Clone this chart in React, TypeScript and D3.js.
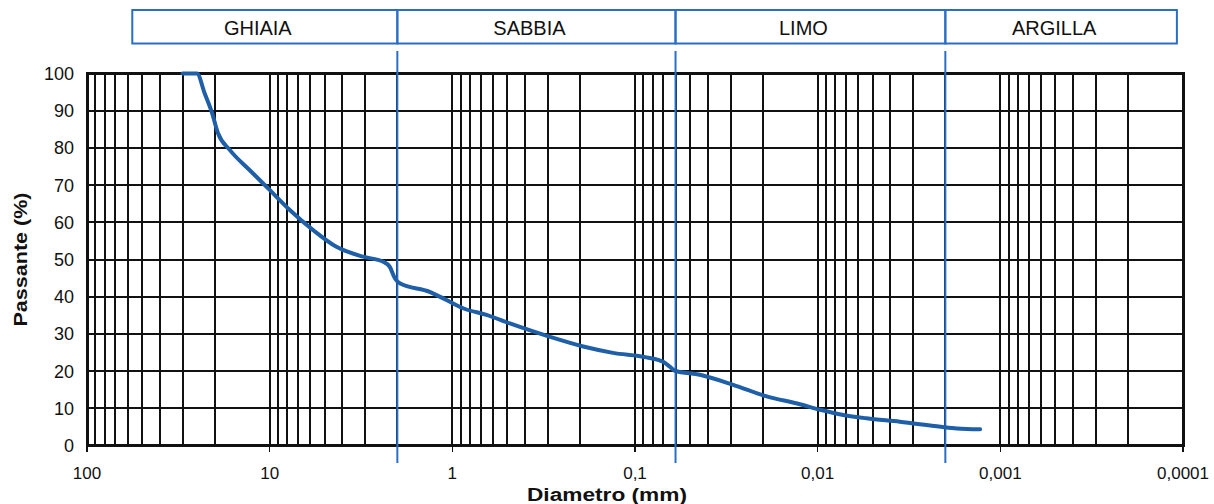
import React from "react";
import * as d3 from "d3";

const diam = [30, 25, 22.7, 20.8, 19.2, 16.5, 12.85, 10, 7.76, 5.78, 4.31, 3.08, 2.39, 2.2, 2.06, 1.94, 1.33, 1.076, 0.873, 0.65, 0.484, 0.292, 0.192, 0.132, 0.0865, 0.0701, 0.0645, 0.0605, 0.0442, 0.029, 0.019, 0.0125, 0.0097, 0.00724, 0.0054, 0.00355, 0.00212, 0.00173, 0.00129];
const passing = [100, 100, 94.7, 89.8, 84.0, 79.4, 74, 68.7, 63.3, 57.9, 53.4, 50.75, 49.4, 48, 44.9, 43.6, 41.3, 39.1, 36.9, 35.1, 32.8, 29.2, 26.6, 24.9, 23.7, 22.5, 21.2, 20.1, 19, 16.3, 13.2, 11.1, 9.6, 8.2, 7.3, 6.4, 5.05, 4.6, 4.35];

const bandNames = ["GHIAIA", "SABBIA", "LIMO", "ARGILLA"];
const bandEdges = [56.5, 2, 0.06, 0.002, 0.000108];
const xTickValues = [100, 10, 1, 0.1, 0.01, 0.001, 0.0001];
const xTickLabels = ["100", "10", "1", "0,1", "0,01", "0,001", "0,0001"];
const yTickValues = [0, 10, 20, 30, 40, 50, 60, 70, 80, 90, 100];

const FONT = "'Liberation Sans', Arial, sans-serif";

export default function App() {
  const W = 1214, H = 504;
  const x = d3.scaleLog().domain([100, 0.0001]).range([87, 1183]);
  const y = d3.scaleLinear().domain([0, 100]).range([445.5, 73.5]);

  const gridX: number[] = [];
  for (let e = 1; e >= -4; e--) {
    for (let k = 1; k <= 9; k++) {
      const v = k * Math.pow(10, e);
      if (v <= 100 && v >= 0.0001) gridX.push(v);
    }
  }

  const pts = diam.map((d, i) => [x(d), y(passing[i])] as [number, number]);
  const line = d3.line().curve(d3.curveMonotoneX)(pts) || "";

  const blueDividers = bandEdges.slice(1, 4);
  const gridColor = "#111";
  const blue = "#2a6fc4";

  return (
    <svg width={W} height={H} style={{ position: "absolute", left: 0, top: 0, background: "#fff" }}>
      <rect x={0} y={0} width={W} height={H} fill="#fff" />
      {/* bands */}
      {bandNames.map((n, i) => {
        const x0 = x(bandEdges[i]);
        const x1 = x(bandEdges[i + 1]);
        return (
          <g key={n}>
            <rect x={x0} y={10} width={x1 - x0} height={33.5} fill="none" stroke={blue} strokeWidth={2} />
            <text x={(x0 + x1) / 2 - 7} y={35} textAnchor="middle" fontFamily={FONT} fontSize={20} fill="#111">{n}</text>
          </g>
        );
      })}
      {/* vertical grid */}
      <g shapeRendering="crispEdges">
        {gridX.map((v, i) => (
          <line key={"gx" + i} x1={x(v)} x2={x(v)} y1={y(100)} y2={y(0)} stroke={gridColor} strokeWidth={2} />
        ))}
        {/* horizontal grid */}
        {yTickValues.map((v) => (
          <line key={"gy" + v} x1={x(100)} x2={x(0.0001)} y1={y(v)} y2={y(v)} stroke={gridColor} strokeWidth={2} />
        ))}
        {/* border */}
        <rect x={x(100)} y={y(100)} width={x(0.0001) - x(100)} height={y(0) - y(100)} fill="none" stroke={gridColor} strokeWidth={3} />
        {/* x tick marks */}
        {xTickValues.map((v, i) => (
          <line key={"xm" + i} x1={x(v)} x2={x(v)} y1={y(0)} y2={y(0) + 6} stroke={gridColor} strokeWidth={1.5} />
        ))}
      </g>
      {xTickValues.map((v, i) => (
        <text key={"xt" + i} x={x(v)} y={479} textAnchor="middle" fontFamily={FONT} fontSize={17} fill="#111">{xTickLabels[i]}</text>
      ))}
      {/* y ticks */}
      {yTickValues.map((v) => (
        <text key={"yt" + v} x={74} y={y(v) + 6.5} textAnchor="end" fontFamily={FONT} fontSize={18} fill="#111">{v}</text>
      ))}
      {/* blue dividers */}
      {blueDividers.map((v, i) => (
        <line key={"bd" + i} x1={x(v)} x2={x(v)} y1={51} y2={463} stroke={blue} strokeWidth={2} />
      ))}
      {/* curve */}
      <path d={line} fill="none" stroke="#1f5fa8" strokeWidth={4} strokeLinejoin="round" strokeLinecap="round" />
      {/* axis titles */}
      <text x={607} y={501} textAnchor="middle" fontFamily={FONT} fontSize={18} fontWeight="bold" fill="#111" textLength={160} lengthAdjust="spacingAndGlyphs">Diametro  (mm)</text>
      <text transform={`translate(27,${(y(0) + y(100)) / 2}) rotate(-90)`} textAnchor="middle" fontFamily={FONT} fontSize={18} fontWeight="bold" fill="#111" textLength={134} lengthAdjust="spacingAndGlyphs">Passante (%)</text>
    </svg>
  );
}
